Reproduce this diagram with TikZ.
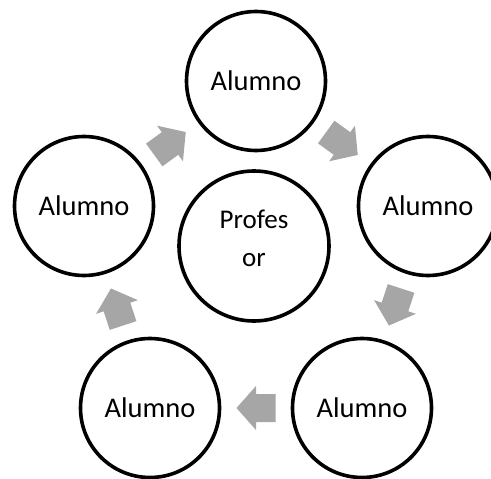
\documentclass[tikz,border=0pt]{standalone}
\usepackage{fontspec}
\setmainfont{Carlito}
\usetikzlibrary{calc}
\definecolor{arrowgray}{RGB}{166,166,166}
\tikzset{
  student/.style={circle, draw=black, line width=3.6pt, minimum size=139pt, inner sep=0pt,
    font=\fontsize{28.5}{34}\selectfont, text height=18.6pt, text depth=0pt},
  teacher/.style={circle, draw=black, line width=3.6pt, minimum size=150pt, inner sep=0pt},
  tlabel/.style={anchor=base, inner sep=0pt, font=\fontsize{27}{38}\selectfont},
  pics/flow/.style={code={
    \fill[arrowgray] (-19.5pt,-14pt) -- (0pt,-14pt) -- (0pt,-22pt) -- (19.5pt,0pt)
      -- (0pt,22pt) -- (0pt,14pt) -- (-19.5pt,14pt) -- cycle;}}
}
\begin{document}
\begin{tikzpicture}[x=1pt, y=-1pt]
\useasboundingbox (0,0) rectangle (491,479);
\node[student] (t) at (256,81) {Alumno};
\node[student] (r) at (428,206) {Alumno};
\node[student] (br) at (362,408) {Alumno};
\node[student] (bl) at (150,408) {Alumno};
\node[student] (l) at (84,206) {Alumno};
\node[teacher] (p) at (254,246) {};
\node[tlabel] (p1) at (254,228) {Profes};
\node[tlabel] (p2) at (254,266) {or};
\foreach \a/\b in {t/r, r/br, br/bl, bl/l, l/t}{
  \path let \p1=(\a), \p2=(\b), \n1={atan2(\y2-\y1,\x2-\x1)} in
    pic[rotate=\n1] at ($(\a)!0.5!(\b)$) {flow};
}
\end{tikzpicture}
\end{document}
